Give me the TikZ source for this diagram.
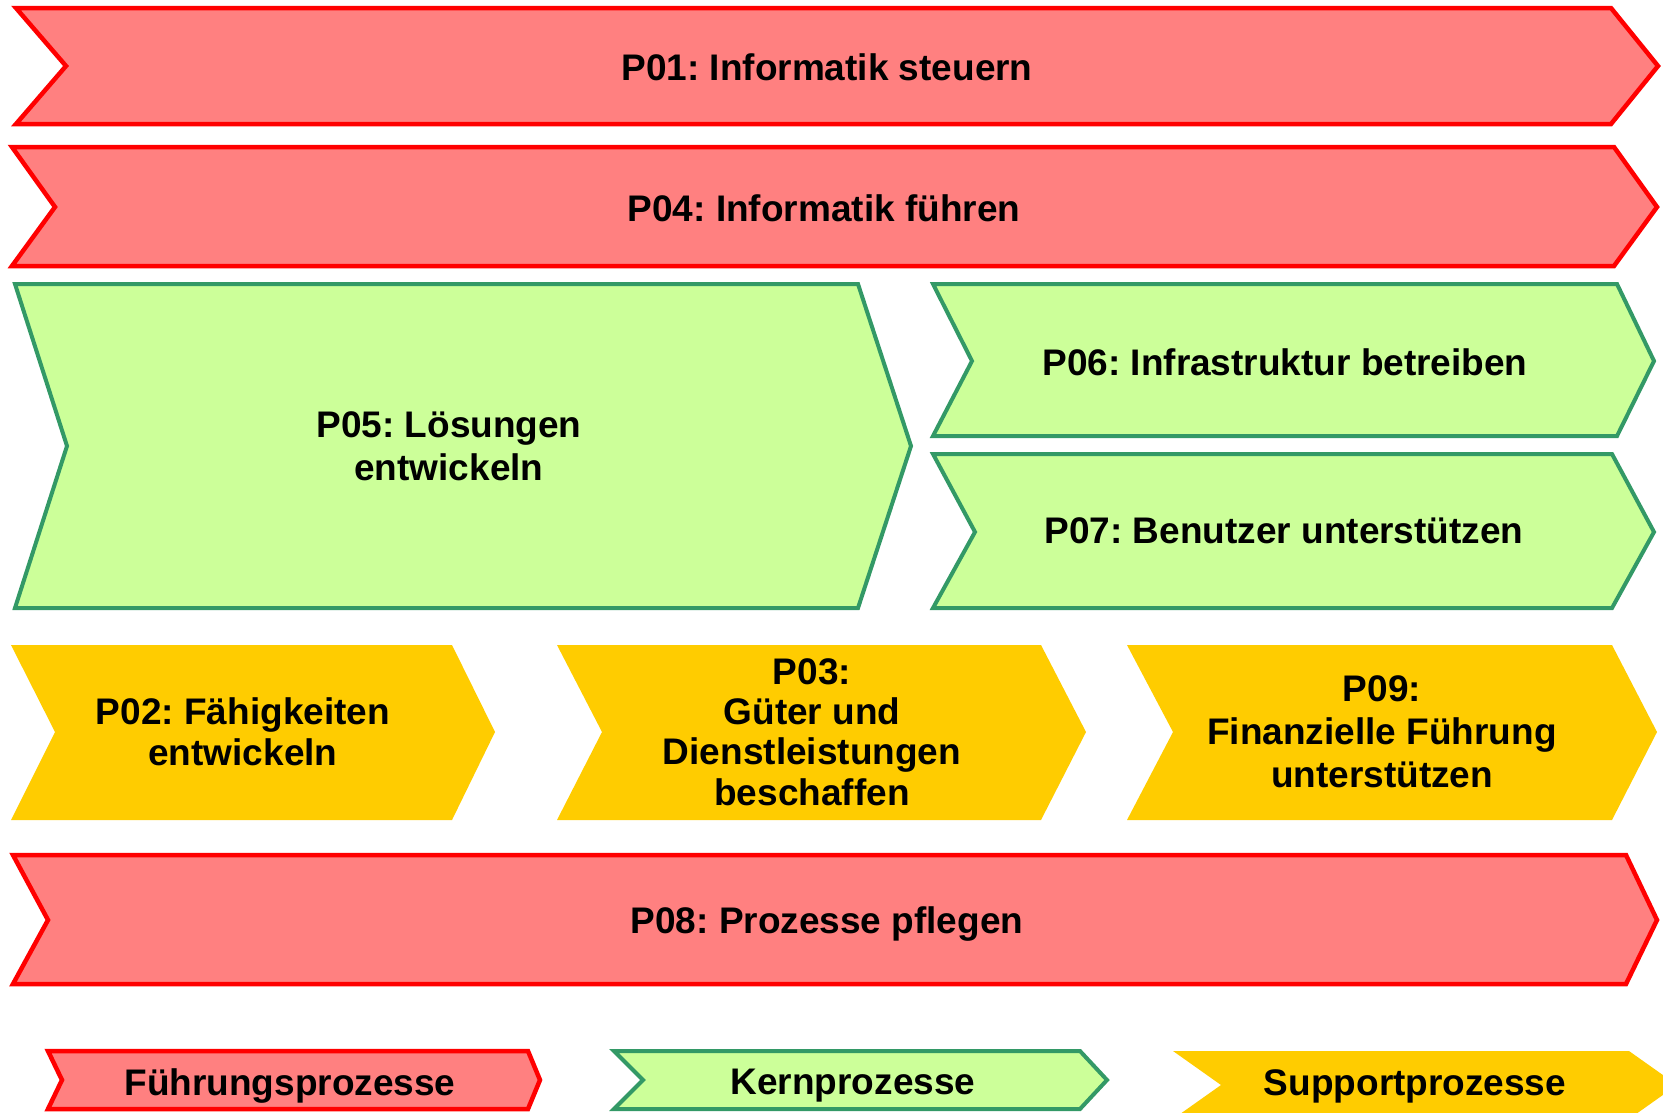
\documentclass[tikz,border=0pt]{standalone}
\usepackage{fontspec}
\setmainfont{Liberation Sans}
\usepackage{tikz}
\definecolor{fuehrungfill}{RGB}{255,128,128}
\definecolor{fuehrungline}{RGB}{255,0,0}
\definecolor{kernfill}{RGB}{204,255,153}
\definecolor{kernline}{RGB}{51,153,102}
\definecolor{supportfill}{RGB}{255,204,0}
\frenchspacing
\tikzset{
    fuehrung/.style={fill=fuehrungfill, draw=fuehrungline, line width=4.5pt, line join=miter},
    kern/.style={fill=kernfill, draw=kernline, line width=4pt, line join=miter},
    support/.style={fill=supportfill},
    proc/.style={align=center, font=\bfseries\fontsize{37}{43}\selectfont},
    proctight/.style={align=center, font=\bfseries\fontsize{37}{40.5}\selectfont}
}

\begin{document}
\begin{tikzpicture}[x=1pt, y=-1pt]
            \useasboundingbox (0, 0) rectangle (1663, 1112);
            % Fuehrungsprozesse
            \draw[fuehrung] (16, 8) -- (1611, 8) -- (1658, 66) -- (1611, 124) -- (16, 124) -- (66, 66) -- cycle;
            \draw[fuehrung] (12, 147) -- (1614, 147) -- (1657, 207) -- (1614, 266) -- (12, 266) -- (55, 207) -- cycle;
            \draw[fuehrung] (13, 855) -- (1626, 855) -- (1657, 920) -- (1626, 984) -- (13, 984) -- (48, 920) -- cycle;
            % Kernprozesse
            \draw[kern] (15, 284) -- (858, 284) -- (911, 446) -- (858, 608) -- (15, 608) -- (67, 446) -- cycle;
            \draw[kern] (933, 284) -- (1617, 284) -- (1654, 361) -- (1617, 436) -- (933, 436) -- (972, 361) -- cycle;
            \draw[kern] (933, 454) -- (1612, 454) -- (1654, 532) -- (1612, 608) -- (933, 608) -- (975, 532) -- cycle;
            % Supportprozesse
            \fill[support] (11, 645) -- (452, 645) -- (495, 732) -- (452, 820) -- (11, 820) -- (55, 732) -- cycle;
            \fill[support] (557, 645) -- (1041, 645) -- (1086, 732) -- (1041, 820) -- (557, 820) -- (602, 732) -- cycle;
            \fill[support] (1127, 645) -- (1612, 645) -- (1657, 732) -- (1612, 820) -- (1127, 820) -- (1173, 732) -- cycle;
            % Legende
            \draw[fuehrung] (48, 1051) -- (528, 1051) -- (540, 1080) -- (528, 1109) -- (48, 1109) -- (62, 1080) -- cycle;
            \draw[kern] (614, 1051) -- (1080, 1051) -- (1107, 1080) -- (1080, 1109) -- (614, 1109) -- (643, 1080) -- cycle;
            \fill[support] (1173, 1051) -- (1629, 1051) -- (1677, 1085) -- (1629, 1119) -- (1173, 1119) -- (1221, 1085) -- cycle;

            \node[proc] (p01) at (827, 67) {P01: Informatik steuern};
            \node[proc] (p04) at (824, 208) {P04: Informatik führen};
            \node[proc] (p05) at (449, 446) {P05: Lösungen\\entwickeln};
            \node[proc] (p06) at (1285, 362) {P06: Infrastruktur betreiben};
            \node[proc] (p07) at (1284, 531) {P07: Benutzer unterstützen};
            \node[proctight] (p02) at (243, 732) {P02: Fähigkeiten\\entwickeln};
            \node[proctight] (p03) at (812, 732) {P03:\\Güter und\\Dienstleistungen\\beschaffen};
            \node[proc] (p09) at (1382, 732) {P09:\\Finanzielle Führung\\unterstützen};
            \node[proc] (p08) at (827, 924) {P08: Prozesse pflegen};
            \node[proc] (lgfuehrung) at (290, 1086) {Führungsprozesse};
            \node[proc] (lgkern) at (853, 1086) {Kernprozesse};
            \node[proc] (lgsupport) at (1415, 1086) {Supportprozesse};
        \end{tikzpicture}
\end{document}
